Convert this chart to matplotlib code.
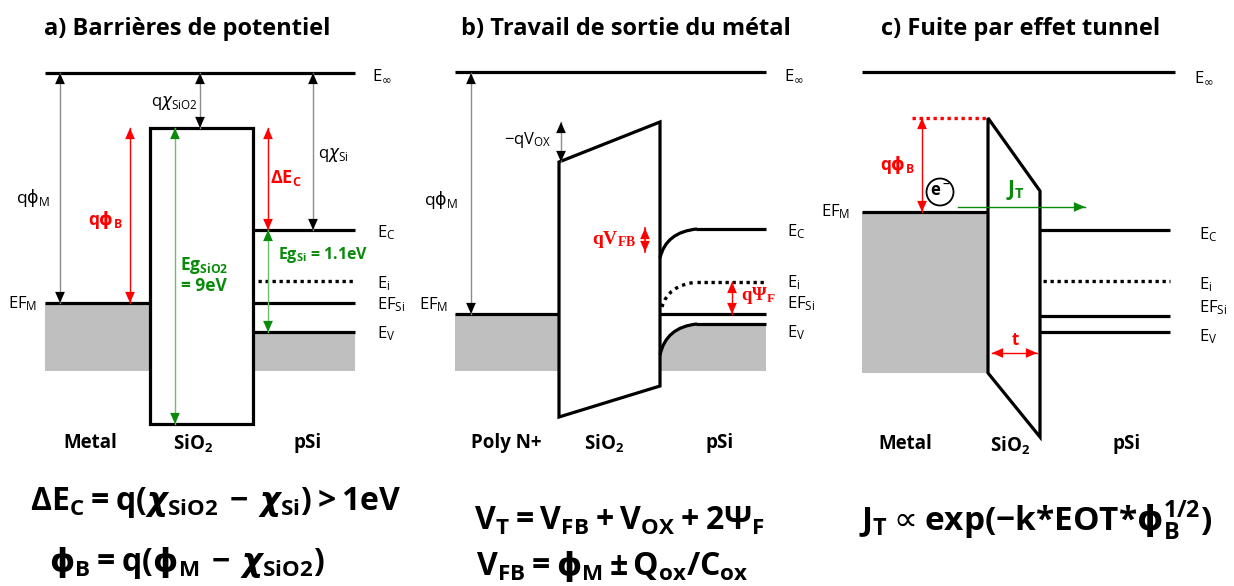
import numpy as np
import matplotlib.pyplot as plt
from matplotlib.patches import Rectangle, Polygon, Circle, PathPatch
from matplotlib.path import Path

plt.rcParams['font.family'] = ['Open Sans', 'DejaVu Sans']

RED = '#ff0000'
GREEN = '#0a8a0a'
LGREEN = '#6cbf6c'
GREY = '#bfbfbf'
SHAFT = '#8c8c8c'

# energy levels, as rows of the picture (0 = top)
E_inf = 73
# a) barrieres de potentiel
a_cols = [45, 150, 253, 355]          # metal | SiO2 | Si edges
a_ox = [128, 424]                     # oxide top / bottom
a_EFm = 303
a_Ec, a_Ei, a_EFsi, a_Ev = 230, 281, 303, 332
a_bottom = 371
# b) travail de sortie
b_cols = [455, 559, 660, 766]
b_ox_left = [162, 417]
b_ox_right = [122, 386]
b_EFm = 314
b_Ec_s, b_Ec = 258, 229               # surface / bulk
b_Ei_s, b_Ei = 307, 282
b_EFsi = 314
b_Ev_s, b_Ev = 355, 324
b_bend = 697
b_bottom = 371
# c) fuite tunnel
c_cols = [862, 988, 1040, 1170]
c_ox_left = [118, 373]
c_ox_right = [191, 437]
c_EFm = 212
c_Ec, c_Ei, c_EFsi, c_Ev = 230, 281, 316, 332
c_bottom = 373

level_names = [r'$\mathregular{E_C}$', r'$\mathregular{E_i}$',
               r'$\mathregular{EF_{Si}}$', r'$\mathregular{E_V}$']
E_inf_name = r'$\mathregular{E}_{\infty}$'

fig = plt.figure(figsize=(12.34, 5.86), dpi=100)
ax = fig.add_axes([0, 0, 1, 1])
ax.set_xlim(0, 1234)
ax.set_ylim(586, 0)
ax.axis('off')

LW = 2.3


def hline(y, x0, x1, dotted=False, color='black'):
    if dotted:
        ax.plot([x0, x1], [y, y], color=color, lw=2.4, ls=(0, (1, 1.1)),
                dash_capstyle='butt')
    else:
        ax.plot([x0, x1], [y, y], color='black', lw=LW, solid_capstyle='butt')


def arrow(x0, y0, x1, y1, shaft=SHAFT, head='black', both=True, lw=1.0):
    ax.plot([x0, x1], [y0, y1], color=shaft, lw=lw)
    hp = dict(arrowstyle='-|>,head_length=0.8,head_width=0.35', color=head,
              lw=0, shrinkA=0, shrinkB=0, mutation_scale=10)
    dx, dy = x1 - x0, y1 - y0
    n = np.hypot(dx, dy)
    ux, uy = dx / n, dy / n
    ax.annotate('', xy=(x1, y1), xytext=(x1 - ux * 9, y1 - uy * 9), arrowprops=hp)
    if both:
        ax.annotate('', xy=(x0, y0), xytext=(x0 + ux * 9, y0 + uy * 9), arrowprops=hp)


def txt(x, y, s, size=11, color='black', weight='normal', ha='center', family=None):
    kw = {}
    if family:
        kw['family'] = family
    ax.text(x, y, s, fontsize=size, color=color, fontweight=weight,
            ha=ha, va='center', **kw)


def grey(x0, x1, y0, y1):
    ax.add_patch(Rectangle((x0, y0), x1 - x0, y1 - y0, color=GREY, lw=0, zorder=0))


def level_labels(x, ys, names):
    for y, s in zip(ys, names):
        txt(x, y, s, size=12, ha='left')


def bend(x0, ys, x1, ye):
    return Path([(x0, ys), (x0 + 6, ye + 3), (x1, ye)],
                [Path.MOVETO, Path.CURVE3, Path.CURVE3])


# ---------------- a) ----------------
txt(187, 29, 'a) Barrières de potentiel', size=17, weight='bold')
grey(a_cols[0], a_cols[1], a_EFm, a_bottom)
grey(a_cols[2], a_cols[3], a_Ev, a_bottom)
hline(E_inf, a_cols[0], a_cols[3])
hline(a_EFm, a_cols[0], a_cols[1])
ax.add_patch(Rectangle((a_cols[1], a_ox[0]), a_cols[2] - a_cols[1], a_ox[1] - a_ox[0],
                       fill=False, lw=LW, ec='black'))
hline(a_Ec, a_cols[2], a_cols[3])
hline(a_Ei, a_cols[2] + 5, a_cols[3], dotted=True)
hline(a_EFsi, a_cols[2], a_cols[3])
hline(a_Ev, a_cols[2], a_cols[3])

arrow(60, E_inf, 60, a_EFm)
arrow(200, E_inf, 200, a_ox[0])
arrow(313, E_inf, 313, a_Ec)
arrow(130, a_ox[0], 130, a_EFm, shaft=RED, head=RED)
arrow(175, a_ox[0], 175, a_ox[1], shaft=LGREEN, head=GREEN)
arrow(268, a_ox[0], 268, a_Ec, shaft=RED, head=RED)
arrow(268, a_Ec, 268, a_Ev, shaft=LGREEN, head=GREEN)

txt(33, 198, r'$\mathregular{q}\mathrm{\phi}_\mathregular{M}$', size=12.5)
txt(174, 103, r'$\mathregular{q}\chi_\mathregular{SiO2}$', size=12)
txt(333, 155, r'$\mathregular{q}\chi_\mathregular{Si}$', size=12)
txt(105, 220, r'$\mathregular{q}\mathbf{\phi}_\mathregular{B}$', size=12.5,
    color=RED, weight='bold')
txt(286, 178, r'$\mathregular{ΔE_C}$', size=13, color=RED, weight='bold')
txt(204, 265, r'$\mathregular{Eg_{SiO2}}$', size=12.5, color=GREEN, weight='bold')
txt(204, 286, '= 9eV', size=12.5, color=GREEN, weight='bold')
txt(278, 255, r'$\mathregular{Eg_{Si}}$ = 1.1eV', size=11.5, color=GREEN,
    weight='bold', ha='left')
txt(8, a_EFm + 1, r'$\mathregular{EF_M}$', size=12, ha='left')
level_labels(372, [E_inf + 3], [E_inf_name])
level_labels(377, [a_Ec + 3, a_Ei + 3, a_EFsi + 2, a_Ev + 2], level_names)
txt(90, 443, 'Metal', size=13.5, weight='bold')
txt(193, 444, r'$\mathregular{SiO_2}$', size=13.5, weight='bold')
txt(308, 443, 'pSi', size=13.5, weight='bold')
txt(216, 503, r'$\mathregular{ΔE_C=q(}\mathbfit{\chi}_\mathregular{SiO2}'
    r'\mathregular{\,−\,}\mathbfit{\chi}_\mathregular{Si}\mathregular{)>1eV}$',
    size=23, weight='bold')
txt(187, 563, r'$\mathbf{\phi}_\mathregular{B}\mathregular{=q(}\mathbf{\phi}_\mathregular{M}'
    r'\mathregular{\,−\,}\mathbfit{\chi}_\mathregular{SiO2}\mathregular{)}$',
    size=23, weight='bold')

# ---------------- b) ----------------
txt(626, 29, 'b) Travail de sortie du métal', size=17, weight='bold')
grey(b_cols[0], b_cols[1], b_EFm, b_bottom)
ev_path = Path([(b_cols[2], b_bottom), (b_cols[2], b_Ev_s), (b_cols[2] + 6, b_Ev + 3),
                (b_bend, b_Ev), (b_cols[3], b_Ev), (b_cols[3], b_bottom),
                (b_cols[2], b_bottom)],
               [Path.MOVETO, Path.LINETO, Path.CURVE3, Path.CURVE3,
                Path.LINETO, Path.LINETO, Path.CLOSEPOLY])
ax.add_patch(PathPatch(ev_path, color=GREY, lw=0, zorder=0))
hline(E_inf - 1, b_cols[0], b_cols[3])
hline(b_EFm, b_cols[0], b_cols[1])
ax.add_patch(Polygon([(b_cols[1], b_ox_left[0]), (b_cols[2], b_ox_right[0]),
                      (b_cols[2], b_ox_right[1]), (b_cols[1], b_ox_left[1])],
                     closed=True, fill=False, lw=LW, ec='black', joinstyle='miter'))
for ys, ye in [(b_Ec_s, b_Ec), (b_Ev_s, b_Ev)]:
    ax.add_patch(PathPatch(bend(b_cols[2], ys, b_bend, ye), fill=False, lw=LW, ec='black'))
    hline(ye, b_bend - 1, b_cols[3])
ax.add_patch(PathPatch(bend(b_cols[2] + 2, b_Ei_s, b_bend, b_Ei), fill=False, lw=2.4,
                       ec='black', ls=(0, (1, 1.3))))
hline(b_Ei, b_bend, b_cols[3], dotted=True)
hline(b_EFsi, b_cols[2], b_cols[3])

arrow(471, E_inf, 471, b_EFm)
arrow(561, b_ox_right[0], 561, b_ox_left[0])
arrow(645, 228, 645, 252, shaft=RED, head=RED, lw=1.2)
arrow(732, b_Ei, 732, b_EFsi, shaft=RED, head=RED)

txt(441, 200, r'$\mathregular{q}\mathrm{\phi}_\mathregular{M}$', size=12.5)
txt(419, 305, r'$\mathregular{EF_M}$', size=12, ha='left')
txt(528, 140, r'$\mathregular{-qV_{OX}}$', size=12)
txt(614, 240, r'$\mathregular{qV_{FB}}$', size=14, color=RED, weight='bold',
    family=['Liberation Serif', 'DejaVu Serif'])
txt(758, 296, r'$\mathregular{qΨ_F}$', size=13.5, color=RED, weight='bold',
    family=['Liberation Serif', 'DejaVu Serif'])
level_labels(784, [E_inf + 3], [E_inf_name])
level_labels(787, [232, 283, 304, 333], level_names)
txt(506, 443, 'Poly N+', size=13.5, weight='bold')
txt(604, 444, r'$\mathregular{SiO_2}$', size=13.5, weight='bold')
txt(720, 443, 'pSi', size=13.5, weight='bold')
txt(620, 521, r'$\mathregular{V_T=V_{FB}+V_{OX}+2Ψ_F}$', size=23, weight='bold')
txt(612, 566, r'$\mathregular{V_{FB}=}\mathbf{\phi}_\mathregular{M}'
    r'\mathregular{\,±\,Q_{ox}/C_{ox}}$', size=23, weight='bold')

# ---------------- c) ----------------
txt(1021, 29, 'c) Fuite par effet tunnel', size=17, weight='bold')
grey(c_cols[0], c_cols[1], c_EFm, c_bottom)
hline(E_inf - 1, c_cols[0], c_cols[3] + 5)
hline(c_EFm, c_cols[0], c_cols[1])
ax.add_patch(Polygon([(c_cols[1], c_ox_left[0]), (c_cols[2], c_ox_right[0]),
                      (c_cols[2], c_ox_right[1]), (c_cols[1], c_ox_left[1])],
                     closed=True, fill=False, lw=LW, ec='black', joinstyle='miter'))
hline(c_Ec, c_cols[2], c_cols[3])
hline(c_Ei, c_cols[2] + 3, c_cols[3], dotted=True)
hline(c_EFsi, c_cols[2], c_cols[3])
hline(c_Ev, c_cols[2], c_cols[3])
hline(c_ox_left[0], 912, c_cols[1], dotted=True, color=RED)

arrow(922, c_ox_left[0], 922, c_EFm, shaft=RED, head=RED)
arrow(958, 207, 1085, 207, shaft=GREEN, head=GREEN, both=False)
arrow(992, 353, 1037, 353, shaft=RED, head=RED)
ax.add_patch(Circle((940, 192), 13.5, fill=False, lw=1.3, ec='black'))

txt(897, 165, r'$\mathregular{q}\mathbf{\phi}_\mathregular{B}$', size=12.5,
    color=RED, weight='bold')
txt(940, 191, r'$\mathregular{e^-}$', size=12, weight='bold')
txt(1015, 190, r'$\mathregular{J_T}$', size=15, color=GREEN, weight='bold')
txt(1015, 340, 't', size=12, color=RED, weight='bold')
txt(821, 212, r'$\mathregular{EF_M}$', size=12, ha='left')
level_labels(1194, [E_inf + 5], [E_inf_name])
level_labels(1199, [235, 285, 308, 337], level_names)
txt(905, 444, 'Metal', size=13.5, weight='bold')
txt(1010, 446, r'$\mathregular{SiO_2}$', size=13.5, weight='bold')
txt(1127, 444, 'pSi', size=13.5, weight='bold')
txt(1036, 521, r'$\mathregular{J_T}\propto\mathregular{exp(-k{*}EOT{*}}'
    r'\mathbf{\phi}_\mathregular{B}^\mathregular{1/2}\mathregular{)}$',
    size=24, weight='bold')

fig.savefig('out.png', dpi=100)
